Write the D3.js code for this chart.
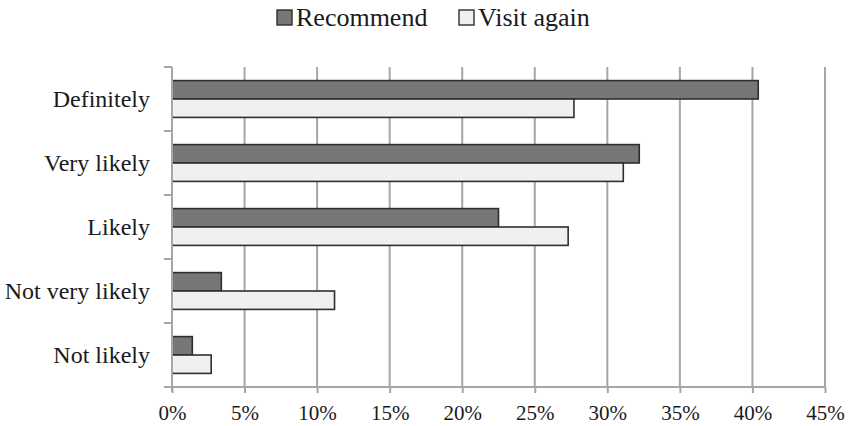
<!DOCTYPE html>
<html>
<head>
<meta charset="utf-8">
<script src="https://cdn.jsdelivr.net/npm/d3@7"></script>
<style>
  html, body { margin: 0; padding: 0; background: #fff; }
  svg { display: block; }
</style>
</head>
<body>
<svg id="chart" width="848" height="426"></svg>
<script>
// Survey answers, top to bottom
const categories = ["Definitely", "Very likely", "Likely", "Not very likely", "Not likely"];
const seriesNames = ["Recommend", "Visit again"];
// Share of respondents (%)
const recommend = [40.4, 32.2, 22.5, 3.4, 1.4];
const visitAgain = [27.7, 31.1, 27.3, 11.2, 2.7];
const xTicks = [0, 5, 10, 15, 20, 25, 30, 35, 40, 45];

const seriesValues = [recommend, visitAgain];
const fills = ["#777777", "#f0f0f0"];
const FONT = '"Liberation Serif"';
const TEXT_COLOR = "#1a1a1a";
const GRID = "#a6a6a6";

const svg = d3.select("#chart");
const plot = { left: 172, right: 825, top: 67, bottom: 387 };

const x = d3.scaleLinear().domain([0, 45]).range([plot.left, plot.right]);
const yBand = d3.scaleBand().domain(categories).range([plot.top, plot.bottom]);
const yGroup = d3.scaleBand().domain(categories).range([plot.top, plot.bottom])
  .paddingInner(0.425).paddingOuter(0.2125);
const ySeries = d3.scaleBand().domain(seriesNames).range([0, yGroup.bandwidth()]);

// vertical gridlines
svg.append("g").selectAll("line")
  .data(xTicks.filter(t => t > 0))
  .join("line")
  .attr("x1", d => x(d)).attr("x2", d => x(d))
  .attr("y1", plot.top).attr("y2", plot.bottom)
  .attr("stroke", GRID).attr("stroke-width", 2);

// bars
const rows = categories.map((c, i) => ({ c, vals: seriesNames.map((s, j) => ({ s, v: seriesValues[j][i], j })) }));
svg.append("g").selectAll("g")
  .data(rows)
  .join("g")
  .attr("transform", d => `translate(0,${yGroup(d.c)})`)
  .selectAll("rect")
  .data(d => d.vals)
  .join("rect")
  .attr("x", x(0))
  .attr("y", d => ySeries(d.s))
  .attr("width", d => x(d.v) - x(0))
  .attr("height", ySeries.bandwidth())
  .attr("fill", d => fills[d.j])
  .attr("stroke", "#2e2e2e")
  .attr("stroke-width", 1.6);

// left axis: line + ticks at band boundaries
const yEdges = categories.map(c => yBand(c)).concat([plot.bottom]);
const left = svg.append("g");
left.append("line")
  .attr("x1", plot.left).attr("x2", plot.left)
  .attr("y1", plot.top).attr("y2", plot.bottom + 5)
  .attr("stroke", GRID).attr("stroke-width", 2);
left.selectAll("line.tick")
  .data(yEdges)
  .join("line").attr("class", "tick")
  .attr("x1", plot.left - 8).attr("x2", plot.left)
  .attr("y1", d => d).attr("y2", d => d)
  .attr("stroke", GRID).attr("stroke-width", 2);
left.selectAll("text")
  .data(categories)
  .join("text")
  .attr("x", 150)
  .attr("y", d => yBand(d) + yBand.bandwidth() / 2)
  .attr("dy", "0.34em")
  .attr("text-anchor", "end")
  .style("font-family", FONT)
  .style("font-size", "24px")
  .style("fill", TEXT_COLOR)
  .text(d => d);

// bottom axis
const xAxis = d3.axisBottom(x)
  .tickValues(xTicks)
  .tickSize(6)
  .tickPadding(12)
  .tickFormat(d => d + "%");
const gx = svg.append("g")
  .attr("transform", `translate(0,${plot.bottom})`)
  .attr("font-family", null)
  .call(xAxis);
gx.select(".domain").attr("stroke", GRID).attr("stroke-width", 2)
  .attr("d", `M${plot.left - 8},0H${plot.right}`);
gx.selectAll(".tick line").attr("stroke", GRID).attr("stroke-width", 2);
gx.selectAll(".tick text")
  .style("font-family", FONT)
  .style("font-size", "21px")
  .style("fill", TEXT_COLOR);

// legend
const legendItems = [
  { name: seriesNames[0], fill: fills[0], sx: 277, tx: 296 },
  { name: seriesNames[1], fill: fills[1], sx: 459, tx: 478 }
];
const lg = svg.append("g");
lg.selectAll("rect")
  .data(legendItems)
  .join("rect")
  .attr("x", d => d.sx).attr("y", 10)
  .attr("width", 15).attr("height", 15)
  .attr("fill", d => d.fill)
  .attr("stroke", "#2e2e2e").attr("stroke-width", 1.4);
lg.selectAll("text")
  .data(legendItems)
  .join("text")
  .attr("x", d => d.tx).attr("y", 26)
  .style("font-family", FONT)
  .style("font-size", "26px")
  .style("fill", TEXT_COLOR)
  .text(d => d.name);
</script>
</body>
</html>
